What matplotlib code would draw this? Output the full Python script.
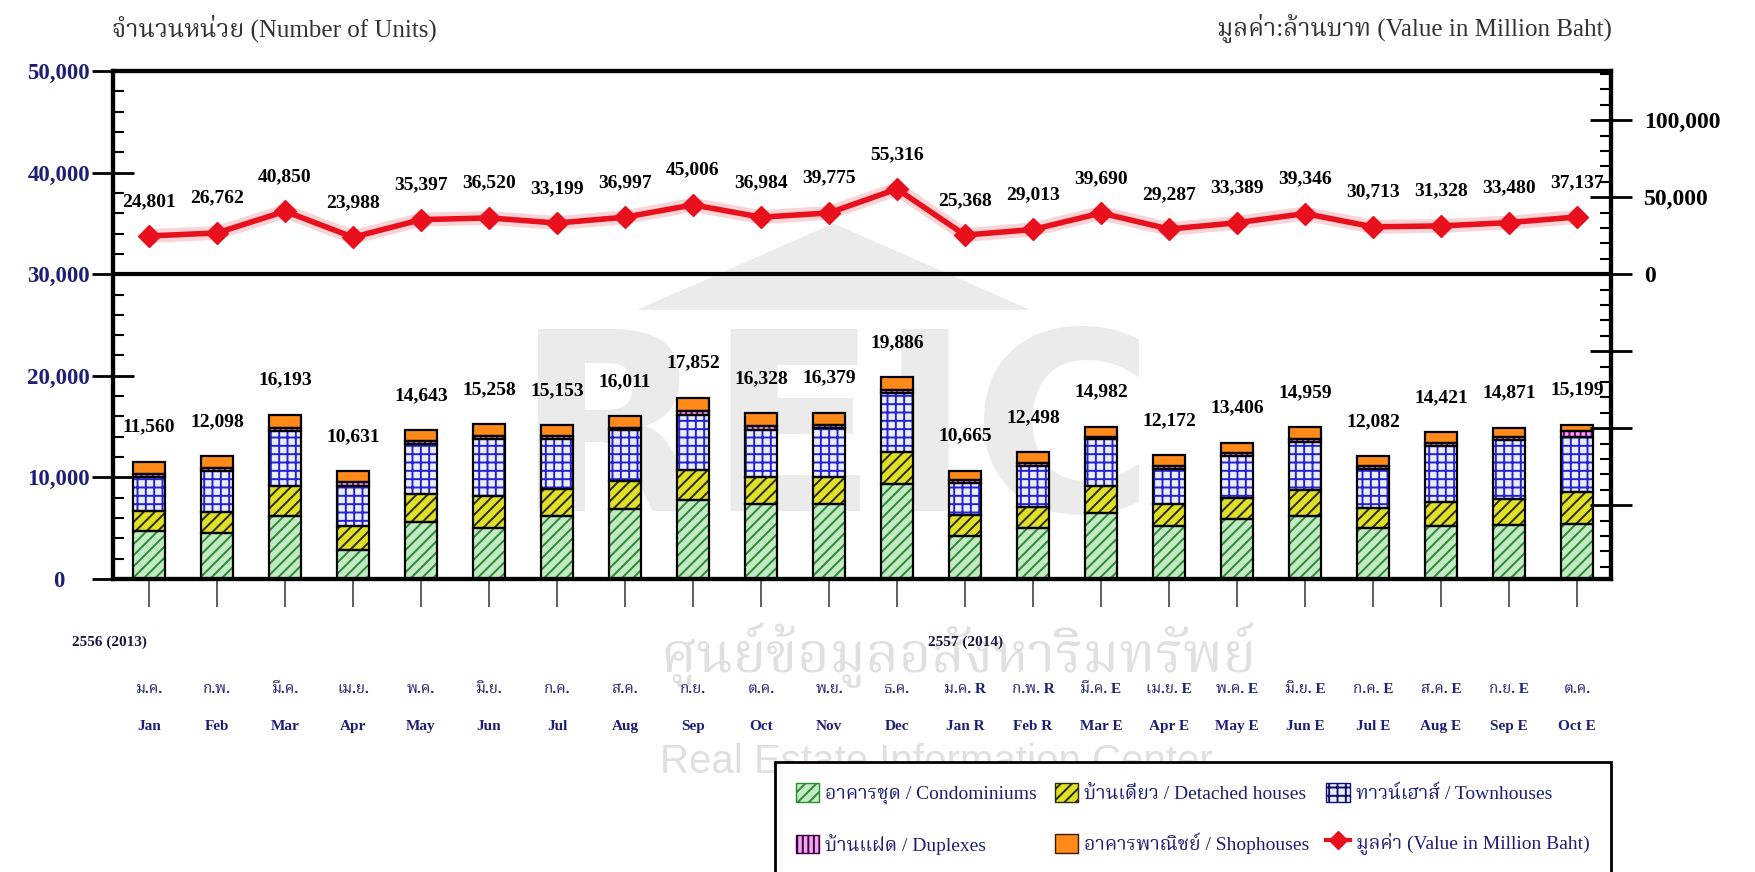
import numpy as np
import matplotlib
matplotlib.use("Agg")
import matplotlib.pyplot as plt
from matplotlib import font_manager
from matplotlib.ft2font import FT2Font
from matplotlib.patches import Patch, Polygon
from matplotlib.lines import Line2D
from matplotlib.ticker import MultipleLocator


def find_thai_font():
    # pick an installed family that actually has Thai glyphs
    names = []
    for f in font_manager.fontManager.ttflist:
        try:
            if FT2Font(f.fname).get_char_index(ord("ก")):
                names.append(f.name)
        except Exception:
            pass
    names = sorted(set(names), key=lambda n: ("Thai" not in n, "Serif" not in n, n))
    return names[0] if names else "DejaVu Sans"


THAI = find_thai_font()
SERIF = ["Liberation Serif", THAI, "DejaVu Sans"]
plt.rcParams["font.family"] = SERIF
plt.rcParams["hatch.linewidth"] = 1.4

# ---- data ----
months_th = ["ม.ค.", "ก.พ.", "มี.ค.", "เม.ย.", "พ.ค.", "มิ.ย.", "ก.ค.", "ส.ค.", "ก.ย.", "ต.ค.", "พ.ย.", "ธ.ค.",
             "ม.ค. R", "ก.พ. R", "มี.ค. E", "เม.ย. E", "พ.ค. E", "มิ.ย. E", "ก.ค. E", "ส.ค. E", "ก.ย. E", "ต.ค."]
months_en = ["Jan", "Feb", "Mar", "Apr", "May", "Jun", "Jul", "Aug", "Sep", "Oct", "Nov", "Dec",
             "Jan R", "Feb R", "Mar E", "Apr E", "May E", "Jun E", "Jul E", "Aug E", "Sep E", "Oct E"]

condo = [4700, 4500, 6200, 2900, 5650, 5050, 6200, 6900, 7800, 7400, 7400, 9350,
         4250, 5000, 6450, 5250, 5900, 6200, 5000, 5200, 5300, 5400]
detached = [1950, 2100, 2950, 2300, 2700, 3150, 2650, 2750, 2900, 2600, 2600, 3150,
            2050, 2050, 2750, 2100, 2100, 2550, 2000, 2400, 2600, 3200]
townhouse = [3400, 4050, 5400, 4000, 4900, 5600, 4900, 5000, 5450, 4700, 4900, 5800,
             3100, 4050, 4550, 3450, 4150, 4700, 3850, 5500, 5750, 5400]
duplex = [300, 300, 350, 300, 300, 250, 300, 250, 350, 350, 300, 350,
          300, 300, 250, 300, 250, 300, 300, 300, 300, 600]
shophouse = [1210, 1150, 1290, 1130, 1090, 1210, 1100, 1110, 1350, 1280, 1180, 1240,
             965, 1100, 980, 1070, 1010, 1210, 930, 1020, 920, 600]
units_total = [11560, 12098, 16193, 10631, 14643, 15258, 15153, 16011, 17852, 16328, 16379, 19886,
               10665, 12498, 14982, 12172, 13406, 14959, 12082, 14421, 14871, 15199]
value_mb = [24801, 26762, 40850, 23988, 35397, 36520, 33199, 36997, 45006, 36984, 39775, 55316,
            25368, 29013, 39690, 29287, 33389, 39346, 30713, 31328, 33480, 37137]

NAVY = "#1f1f75"
RED = "#e8101c"

W, H = 1756, 872
fig = plt.figure(figsize=(W / 100, H / 100), dpi=100)
ax = fig.add_axes([113 / W, 1 - 579 / H, 1498 / W, 508 / H])
ax.patch.set_alpha(0)

x = np.arange(len(months_en))
width = 0.46

# watermark (faint, behind everything)
ax.text(0.482, 0.27, "REIC", transform=ax.transAxes, ha="center", va="center",
        fontsize=180, fontweight="bold", family="Liberation Sans Narrow", color="#ebebeb", zorder=0)
ax.add_patch(Polygon([(0.481, 0.70), (0.35, 0.53), (0.612, 0.53)], closed=True,
                     transform=ax.transAxes, facecolor="#ebebeb", edgecolor="none", zorder=0))
fig.text(660 / W, 1 - 655 / H, "ศูนย์ข้อมูลอสังหาริมทรัพย์", ha="left", va="center",
         fontsize=40, family=[THAI, "DejaVu Sans"], color="#e0e0e0", zorder=-1)
fig.text(660 / W, 1 - 762 / H, "Real Estate Information Center", ha="left", va="center",
         fontsize=29, family="Liberation Sans", color="#e0e0e0", zorder=-1)

# stacked bars: face + hatch first, black outline on top
layers = [
    (condo, "#c4eac4", "#2a8a35", "///"),
    (detached, "#e0e028", "#2a2a00", "///"),
    (townhouse, "#ececff", "#2323d0", "++"),
    (duplex, "#f2a6f2", "#7a007a", "|||"),
    (shophouse, "#ff8a1a", "#ff8a1a", None),
]
bottom = np.zeros(len(x))
for vals, face, hcol, hatch in layers:
    ax.bar(x, vals, width, bottom=bottom, color=face, edgecolor=hcol, hatch=hatch, linewidth=0, zorder=2)
    ax.bar(x, vals, width, bottom=bottom, fill=False, edgecolor="black", linewidth=1.6, zorder=2.5)
    bottom += np.array(vals)

for i, t in enumerate(units_total):
    ax.annotate(f"{t:,}", (i, t), xytext=(0, 25), textcoords="offset points", ha="center", va="center",
                fontsize=14, fontweight="bold", color="black", zorder=4)

ax.axhline(30000, color="black", lw=3, zorder=3)
ax.set_xlim(-0.53, 21.5)
ax.set_ylim(0, 50000)

yt = np.arange(0, 50001, 10000)
ax.set_yticks(yt, labels=[f"{v:,}" for v in yt], fontsize=16.5, fontweight="bold", color=NAVY)
for lbl in ax.get_yticklabels():
    lbl.set_horizontalalignment("center")
ax.yaxis.set_minor_locator(MultipleLocator(2000))
ax.tick_params(axis="y", which="major", direction="inout", length=30, width=2, pad=24)
ax.tick_params(axis="y", which="minor", direction="in", length=8, width=1.5)
ax.set_xticks(x)
ax.tick_params(axis="x", direction="out", length=20, width=1.2, color="#444444", labelbottom=False)

# value line on the right axis
ax2 = ax.twinx()
ax2.set_ylim(-197900, 131900)
ax2.plot(x, value_mb, color=RED, lw=10, alpha=0.18, solid_capstyle="round", zorder=4)
ax2.plot(x, value_mb, color=RED, lw=4, marker="D", ms=11, zorder=5)
for i, v in enumerate(value_mb):
    ax2.annotate(f"{v:,}", (i, v), xytext=(0, 25), textcoords="offset points", ha="center", va="center",
                 fontsize=14, fontweight="bold", color="black", zorder=6)

rt = np.arange(-150000, 100001, 50000)
ax2.set_yticks(rt, labels=[f"{v:,}" if v >= 0 else "" for v in rt], fontsize=17, fontweight="bold",
               color="black")
ax2.yaxis.set_minor_locator(MultipleLocator(10000))
ax2.tick_params(axis="y", which="major", direction="inout", length=30, width=2, pad=9)
ax2.tick_params(axis="y", which="minor", direction="in", length=8, width=1.5)

for a in (ax, ax2):
    for s in a.spines.values():
        s.set_linewidth(3)

# month / year labels under the axis
xt = ax.get_xaxis_transform()
for i in x:
    ax.text(i, (579 - 689) / 508, months_th[i], transform=xt, ha="center", va="center",
            fontsize=11, fontweight="bold", color=NAVY, clip_on=False)
    ax.text(i, (579 - 726) / 508, months_en[i], transform=xt, ha="center", va="center",
            fontsize=11, fontweight="bold", color=NAVY, clip_on=False)
fig.text(72 / W, 1 - 642 / H, "2556 (2013)", ha="left", va="center", fontsize=11, fontweight="bold",
         color="#1a1a40")
fig.text(928 / W, 1 - 642 / H, "2557 (2014)", ha="left", va="center", fontsize=11, fontweight="bold",
         color="#1a1a40")

# axis titles
fig.text(112 / W, 1 - 28 / H, "จำนวนหน่วย (Number of Units)", ha="left", va="center",
         fontsize=18, color="#333333")
fig.text(1612 / W, 1 - 28 / H, "มูลค่า:ล้านบาท (Value in Million Baht)", ha="right", va="center",
         fontsize=18, color="#333333")

# legend
handles = [
    Patch(facecolor="#c4eac4", edgecolor="#2a8a35", hatch="///", label="อาคารชุด / Condominiums"),
    Patch(facecolor="#f2a6f2", edgecolor="#3a003a", hatch="|||", label="บ้านแฝด / Duplexes"),
    Patch(facecolor="#e0e028", edgecolor="#2a2a00", hatch="///", label="บ้านเดี่ยว / Detached houses"),
    Patch(facecolor="#ff8a1a", edgecolor="#3a1a00", label="อาคารพาณิชย์ / Shophouses"),
    Patch(facecolor="#ececff", edgecolor="#10106a", hatch="++", label="ทาวน์เฮาส์ / Townhouses"),
    Line2D([], [], color=RED, lw=3, marker="D", ms=9, label="มูลค่า (Value in Million Baht)"),
]
leg = fig.legend(handles=handles, ncol=3, loc="upper left", bbox_to_anchor=(765 / W, 1 - 752 / H),
                 frameon=True, fancybox=False, edgecolor="black", framealpha=1,
                 prop={"size": 14}, labelspacing=1.5, columnspacing=0.9, handlelength=1.2,
                 handleheight=1.1, handletextpad=0.3, borderpad=1.1)
leg.get_frame().set_linewidth(2)
for t in leg.get_texts():
    t.set_color(NAVY)

fig.savefig("out.png", dpi=100)
